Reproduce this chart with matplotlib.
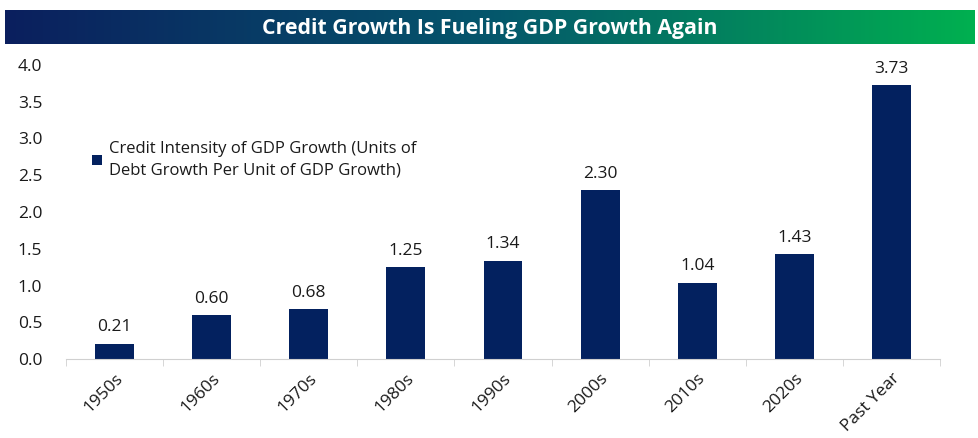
import matplotlib.pyplot as plt
import numpy as np
from matplotlib.colors import LinearSegmentedColormap

categories = ['1950s', '1960s', '1970s', '1980s', '1990s', '2000s', '2010s', '2020s', 'Past Year']
values = [0.21, 0.60, 0.68, 1.25, 1.34, 2.30, 1.04, 1.43, 3.73]
labels = ['0.21', '0.60', '0.68', '1.25', '1.34', '2.30', '1.04', '1.43', '3.73']
yticks = [0.0, 0.5, 1.0, 1.5, 2.0, 2.5, 3.0, 3.5, 4.0]
title = 'Credit Growth Is Fueling GDP Growth Again'
legend_text = 'Credit Intensity of GDP Growth (Units of\nDebt Growth Per Unit of GDP Growth)'

plt.rcParams['font.family'] = ['Open Sans', 'DejaVu Sans']
navy = '#03215f'
txt = '#1a1a1a'

fig = plt.figure(figsize=(9.79, 4.38), dpi=100)

# title banner with gradient
tax = fig.add_axes([5/979, 1 - 44/438, 970/979, 34/438])
cmap = LinearSegmentedColormap.from_list('banner', ['#0b1f5e', '#05566c', '#00b050'])
tax.imshow(np.linspace(0, 1, 256).reshape(1, -1), aspect='auto', cmap=cmap, extent=[0, 1, 0, 1])
tax.set_axis_off()
tax.text(0.5, 0.47, title, color='white', fontsize=15.3, fontweight='bold',
         ha='center', va='center', transform=tax.transAxes)

ax = fig.add_axes([66/979, 1 - 359/438, (940 - 66)/979, (359 - 65)/438])
x = np.arange(len(categories))
bars = ax.bar(x, values, width=0.4, color=navy, label=legend_text)
for xi, v, lab in zip(x, values, labels):
    ax.text(xi, v + 0.11, lab, ha='center', va='bottom', fontsize=12.5, color=txt)

ax.set_xlim(-0.5, len(categories) - 0.5)
ax.set_ylim(0, 4.0)
ax.set_yticks(yticks)
ax.set_yticklabels([f'{t:.1f}' for t in yticks], fontsize=12.5, color=txt)
ax.set_xticks(x)
ax.set_xticklabels(categories, rotation=45, ha='right', rotation_mode='anchor', fontsize=12.5, color=txt)
ax.tick_params(axis='x', length=0, pad=8)
ax.tick_params(axis='y', length=0, pad=17)
ax.set_xticks(np.arange(-0.5, len(categories)), minor=True)
ax.tick_params(axis='x', which='minor', length=5, color='#d0d0d0')
for s in ['top', 'right', 'left']:
    ax.spines[s].set_visible(False)
ax.spines['bottom'].set_color('#d0d0d0')

leg = ax.legend(loc='upper left', bbox_to_anchor=(0.022, 0.765), frameon=False, fontsize=12,
                handlelength=0.6, handleheight=0.6, handletextpad=0.4, borderaxespad=0)
for t in leg.get_texts():
    t.set_linespacing(1.5)
    t.set_color(txt)

fig.savefig('out.png', dpi=100)
